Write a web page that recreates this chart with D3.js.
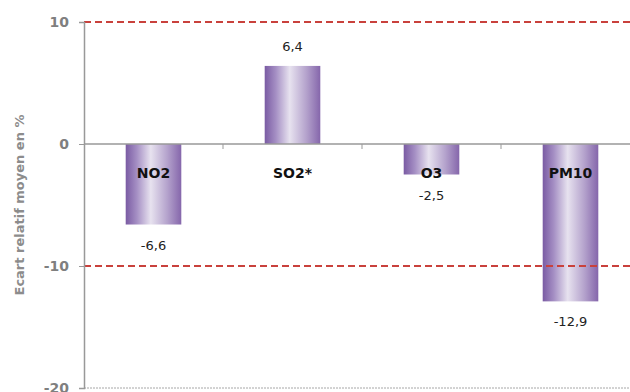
<!DOCTYPE html>
<html>
<head>
<meta charset="utf-8">
<script src="https://cdn.jsdelivr.net/npm/d3@7"></script>
<style>
  html, body { margin: 0; padding: 0; background: #fff; }
  svg { display: block; font-family: "DejaVu Sans", Verdana, sans-serif; }
</style>
</head>
<body>
<div id="chart"></div>
<script>
var categories = ['NO2', 'SO2*', 'O3', 'PM10'];
var values = [-6.6, 6.4, -2.5, -12.9];
var valueLabels = ['-6,6', '6,4', '-2,5', '-12,9'];
var yTicks = [10, 0, -10, -20];
var limits = [10, -10];

(function () {
  var width = 630, height = 392;
  var m = { left: 84, right: 640, top: 22, bottom: 388 };

  var svg = d3.select('#chart').append('svg').attr('width', width).attr('height', height);

  var x = d3.scaleBand().domain(categories).range([m.left, m.right]).paddingInner(0.6).paddingOuter(0.3);
  var y = d3.scaleLinear().domain([-20, 10]).range([m.bottom, m.top]);

  var defs = svg.append('defs');
  var grad = defs.append('linearGradient').attr('id', 'barGrad')
    .attr('x1', '0%').attr('x2', '100%').attr('y1', '0%').attr('y2', '0%');
  grad.append('stop').attr('offset', '0%').attr('stop-color', '#7a5ba3');
  grad.append('stop').attr('offset', '20%').attr('stop-color', '#a58fc4');
  grad.append('stop').attr('offset', '45%').attr('stop-color', '#e7e2ef');
  grad.append('stop').attr('offset', '75%').attr('stop-color', '#b4a2cc');
  grad.append('stop').attr('offset', '100%').attr('stop-color', '#8566ab');

  // bottom dotted line at -20
  svg.append('line').attr('x1', m.left).attr('x2', width).attr('y1', y(-20)).attr('y2', y(-20))
    .attr('stroke', '#a6a6a6').attr('stroke-width', 1).attr('stroke-dasharray', '2,1');

  // bars
  svg.selectAll('rect.bar').data(values).enter().append('rect')
    .attr('class', 'bar')
    .attr('x', function (d, i) { return x(categories[i]); })
    .attr('width', x.bandwidth())
    .attr('y', function (d) { return y(Math.max(0, d)); })
    .attr('height', function (d) { return Math.abs(y(d) - y(0)); })
    .attr('fill', 'url(#barGrad)');

  // zero axis
  svg.append('line').attr('x1', m.left).attr('x2', width).attr('y1', y(0)).attr('y2', y(0))
    .attr('stroke', '#999').attr('stroke-width', 1.5);
  svg.selectAll('line.cattick').data(categories.slice(1)).enter().append('line')
    .attr('class', 'cattick')
    .attr('x1', function (d) { return x(d) - x.step() * x.paddingInner() / 2; })
    .attr('x2', function (d) { return x(d) - x.step() * x.paddingInner() / 2; })
    .attr('y1', y(0)).attr('y2', y(0) + 5)
    .attr('stroke', '#999');

  // limit lines
  svg.selectAll('line.limit').data(limits).enter().append('line')
    .attr('class', 'limit')
    .attr('x1', m.left).attr('x2', width)
    .attr('y1', function (d) { return y(d); }).attr('y2', function (d) { return y(d); })
    .attr('stroke', '#c9413c').attr('stroke-width', 2).attr('stroke-dasharray', '7,4');

  // y axis (plain hyphen for negatives, as in the source)
  var yAxis = svg.append('g').attr('transform', 'translate(' + m.left + ',0)')
    .call(d3.axisLeft(y).tickValues(yTicks).tickSize(5).tickPadding(10)
      .tickFormat(function (d) { return String(d); }));
  yAxis.select('.domain').attr('stroke', '#999').attr('stroke-width', 1.5);
  yAxis.selectAll('.tick line').attr('stroke', '#999');
  yAxis.selectAll('text').attr('fill', '#7f7f7f').attr('font-size', 14).attr('font-weight', 'bold')
    .attr('font-family', '"DejaVu Sans", Verdana, sans-serif');

  // category labels
  svg.selectAll('text.cat').data(categories).enter().append('text')
    .attr('class', 'cat')
    .attr('x', function (d) { return x(d) + x.bandwidth() / 2; })
    .attr('y', y(0) + 34)
    .attr('text-anchor', 'middle')
    .attr('font-size', 14).attr('font-weight', 'bold').attr('fill', '#111')
    .text(function (d) { return d; });

  // value labels
  svg.selectAll('text.val').data(values).enter().append('text')
    .attr('class', 'val')
    .attr('x', function (d, i) { return x(categories[i]) + x.bandwidth() / 2; })
    .attr('y', function (d) { return d >= 0 ? y(d) - 15 : y(d) + 25; })
    .attr('text-anchor', 'middle')
    .attr('font-size', 13).attr('fill', '#222')
    .text(function (d, i) { return valueLabels[i]; });

  // y title
  svg.append('text')
    .attr('transform', 'translate(24,205) rotate(-90)')
    .attr('text-anchor', 'middle')
    .attr('font-size', 13).attr('font-weight', 'bold').attr('fill', '#8c8c8c')
    .text('Ecart relatif moyen en %');
})();
</script>
</body>
</html>
